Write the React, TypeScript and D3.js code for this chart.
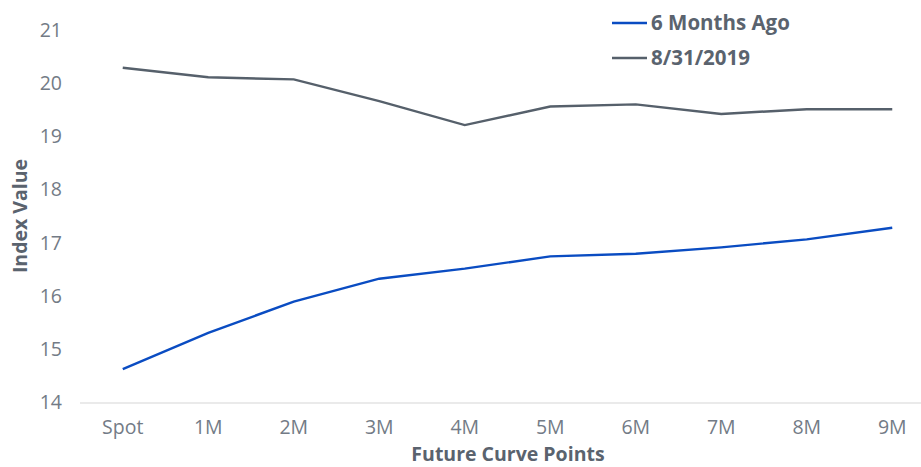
import React from "react";
import * as d3 from "d3";

// Future curve points (x axis)
const points = ["Spot", "1M", "2M", "3M", "4M", "5M", "6M", "7M", "8M", "9M"];
// Series values
const sixMonthsAgo = [14.62, 15.3, 15.89, 16.32, 16.51, 16.74, 16.79, 16.91, 17.06, 17.28];
const aug2019 = [20.29, 20.11, 20.07, 19.66, 19.21, 19.56, 19.6, 19.42, 19.51, 19.51];
const yTicks = [14, 15, 16, 17, 18, 19, 20, 21];

const series = [
  { name: "6 Months Ago", values: sixMonthsAgo, color: "#0a4cc2" },
  { name: "8/31/2019", values: aug2019, color: "#56606b" },
];

const W = 921;
const H = 467;
const margin = { top: 30, right: -14, bottom: 65, left: 80 };
const font = "'Open Sans', Lato, sans-serif";

export default function App() {
  const x = d3
    .scaleBand<string>()
    .domain(points)
    .range([margin.left, W - margin.right])
    .padding(0);
  const y = d3
    .scaleLinear()
    .domain([14, 21])
    .range([H - margin.bottom, margin.top]);

  const cx = (p: string) => (x(p) ?? 0) + x.bandwidth() / 2;
  const line = d3
    .line<number>()
    .x((_, i) => cx(points[i]))
    .y((d) => y(d));

  return (
    <svg
      width={W}
      height={H}
      style={{ position: "absolute", left: 0, top: 0, background: "#fff" }}
      fontFamily={font}
    >
      {/* y tick labels */}
      {yTicks.map((t) => (
        <text
          key={t}
          x={62}
          y={y(t)}
          dy="0.36em"
          textAnchor="end"
          fontSize={19.5}
          fill="#737b86"
        >
          {t}
        </text>
      ))}

      {/* x axis line */}
      <line
        x1={margin.left}
        x2={W}
        y1={y(14) + 1}
        y2={y(14) + 1}
        stroke="#d6d6d6"
        strokeWidth={1.2}
      />

      {/* x tick labels */}
      {points.map((p) => (
        <text
          key={p}
          x={cx(p)}
          y={434}
          textAnchor="middle"
          fontSize={19.5}
          fill="#737b86"
        >
          {p}
        </text>
      ))}

      {/* lines */}
      {series.map((s) => (
        <path
          key={s.name}
          d={line(s.values) ?? ""}
          fill="none"
          stroke={s.color}
          strokeWidth={2.4}
        />
      ))}

      {/* legend */}
      {series.map((s, i) => (
        <g key={s.name} transform={`translate(612,${23 + i * 35})`}>
          <line x1={0} x2={35} y1={0} y2={0} stroke={s.color} strokeWidth={2.6} />
          <text x={39} y={0} dy="0.36em" fontSize={20.5} fontWeight="bold" fill="#5a636e">
            {s.name}
          </text>
        </g>
      ))}

      {/* axis titles */}
      <text
        transform={`translate(27,${(y(14) + y(21)) / 2}) rotate(-90)`}
        textAnchor="middle"
        fontSize={19.5}
        fontWeight="bold"
        fill="#5a636e"
      >
        Index Value
      </text>
      <text x={508} y={461} textAnchor="middle" fontSize={19.5} fontWeight="bold" fill="#5a636e">
        Future Curve Points
      </text>
    </svg>
  );
}
